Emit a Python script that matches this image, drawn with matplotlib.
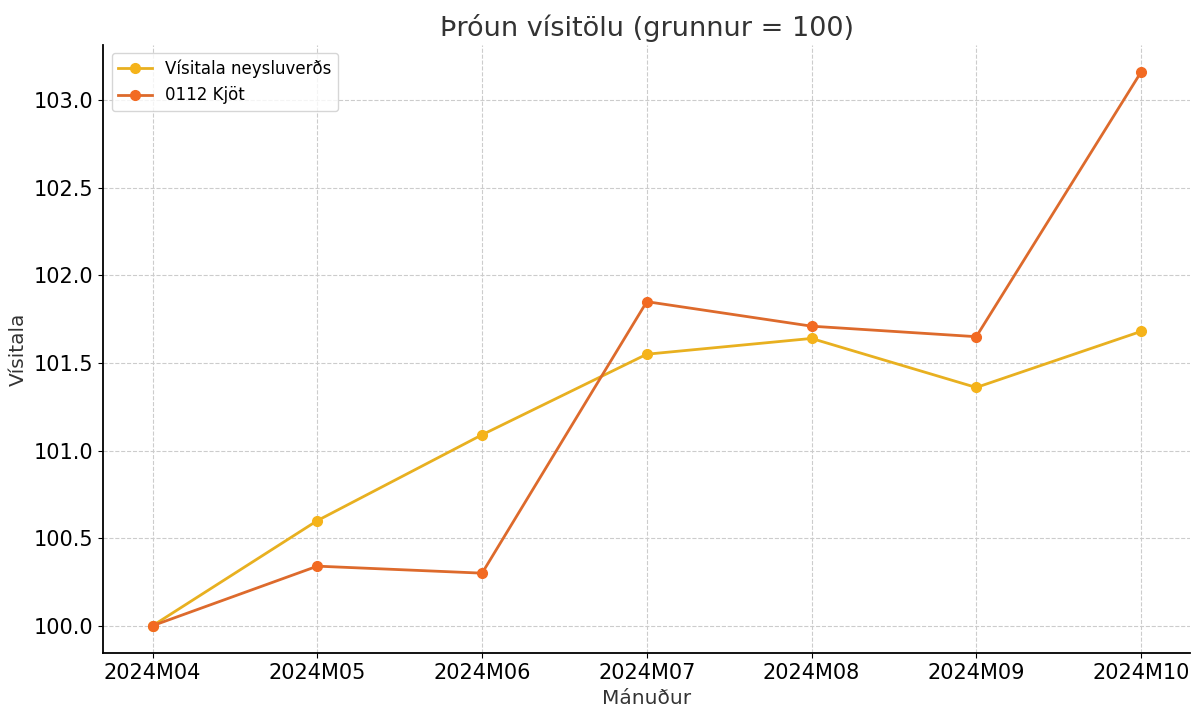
import matplotlib
matplotlib.use("Agg")
import matplotlib.pyplot as plt

# data
months = ["2024M04", "2024M05", "2024M06", "2024M07", "2024M08", "2024M09", "2024M10"]
visitala = [100.0, 100.60, 101.09, 101.55, 101.64, 101.36, 101.68]
kjot = [100.0, 100.34, 100.30, 101.85, 101.71, 101.65, 103.16]

fig, ax = plt.subplots(figsize=(12, 7.18), dpi=100)

ax.plot(months, visitala, color="#e8b020", marker="o", markersize=7,
        markerfacecolor="#f5b31a", markeredgecolor="#f5b31a", linewidth=2,
        label="Vísitala neysluverðs")
ax.plot(months, kjot, color="#dd6a2c", marker="o", markersize=7,
        markerfacecolor="#f26a22", markeredgecolor="#f26a22", linewidth=2,
        label="0112 Kjöt")

ax.set_title("Þróun vísitölu (grunnur = 100)", fontsize=19.5, color="#333333")
ax.set_xlabel("Mánuður", fontsize=14.5, color="#333333")
ax.set_ylabel("Vísitala", fontsize=14.5, color="#333333")
ax.tick_params(labelsize=15)
ax.yaxis.set_major_formatter(matplotlib.ticker.FormatStrFormatter("%.1f"))

ax.grid(True, linestyle="--", color="#cccccc", linewidth=0.8)
ax.spines["top"].set_visible(False)
ax.spines["right"].set_visible(False)
ax.spines["left"].set_linewidth(1.3)
ax.spines["bottom"].set_linewidth(1.3)

ax.legend(loc="upper left", fontsize=12, frameon=True, fancybox=True)

plt.subplots_adjust(left=0.086, right=0.992, top=0.938, bottom=0.09)
plt.savefig("out.png", dpi=100)
